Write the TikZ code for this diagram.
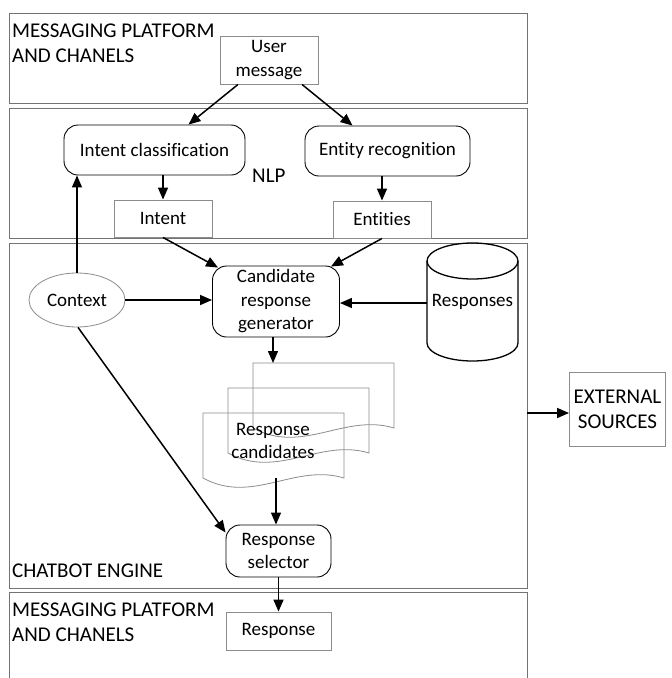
\documentclass[tikz,border=0pt]{standalone}
\usepackage{fontspec}
\setmainfont[Ligatures=NoCommon]{Carlito}
\usetikzlibrary{arrows.meta,calc,shapes.geometric}
\newcommand\boxfont{\fontsize{19}{23.5}\selectfont}
\newcommand\panelfont{\fontsize{21}{25}\selectfont}
\tikzset{
  panel/.style={draw=black!55, line width=0.8pt},
  lbl/.style={inner sep=0pt, align=left, font=\panelfont},
  gbox/.style={draw=black!45, line width=0.9pt, align=center, inner sep=2pt, font=\boxfont},
  rbox/.style={draw=black, line width=0.9pt, rounded corners=14pt, align=center, inner sep=2pt, font=\boxfont},
  doc/.style={draw=black!45, line width=0.8pt},
  arr/.style={line width=1.5pt, -{Triangle[length=12pt,width=10pt]}},
}
\begin{document}
\begin{tikzpicture}[x=1pt,y=-1pt]
	%%%%% START %%%%%
	\useasboundingbox (0,0) rectangle (672,678);
	
	% panels
	\draw[panel] (9,13) rectangle (527,103);
	\draw[panel] (9,108) rectangle (527,238);
	\draw[panel] (9,243) rectangle (527,588);
	\draw[panel] (9,678) -- (9,592) -- (527,592) -- (527,678);
	
	\node[lbl, anchor=north west] (msgtop) at (12,23.5) {MESSAGING PLATFORM\\AND CHANELS};
	\node[lbl, anchor=base west] (nlp) at (252,182) {NLP};
	\node[lbl, anchor=base west] (engine) at (12,577) {CHATBOT ENGINE};
	\node[lbl, anchor=north west] (msgbot) at (12,602.5) {MESSAGING PLATFORM\\AND CHANELS};
	
	% nodes
	\node[gbox, minimum width=98pt, minimum height=48pt] (usermsg) at (269,60) {User\\message};
	\node[rbox, minimum width=181pt, minimum height=50pt] (intcls) at (154.5,150) {Intent classification};
	\node[rbox, minimum width=165pt, minimum height=50pt] (entrec) at (387.5,151) {Entity recognition};
	\node[gbox, minimum width=98pt, minimum height=37pt] (intent) at (163,218.5) {Intent};
	\node[gbox, minimum width=98pt, minimum height=37pt] (entities) at (382,219.5) {Entities};
	\node[rbox, minimum width=127pt, minimum height=71pt] (cand) at (276,301.5) {Candidate\\response\\generator};
	\node[ellipse, draw=black!45, line width=0.8pt, minimum width=96pt, minimum height=54pt, inner sep=0pt, font=\boxfont] (context) at (77,300) {Context};
	
	% database
	\draw[line width=1.3pt] (427,261) -- (427,343) arc[start angle=180, end angle=0, x radius=45.5, y radius=18] -- (518,261);
	\draw[line width=1.3pt] (472.5,261) ellipse [x radius=45.5, y radius=18];
	\node[inner sep=0pt, font=\boxfont] (responses) at (472.5,302) {Responses};
	\coordinate (dbleft) at (427,303);
	
	% stacked documents
	\foreach \s in {50,25,0} {
		\draw[doc] (203+\s,478-\s) -- (203+\s,413-\s) -- (344+\s,413-\s) -- (344+\s,478-\s)
			.. controls (294.6+\s,463-\s) and (252.4+\s,505-\s) .. (203+\s,478-\s);
	}
	\node[inner sep=0pt, align=center, font=\boxfont] (cands) at (273,441) {Response\\candidates};
	\coordinate (candtop) at (273,363);
	\coordinate (candbot) at (276,478);
	
	\node[rbox, minimum width=105pt, minimum height=52pt] (selector) at (278.5,551) {Response\\selector};
	\node[gbox, minimum width=105pt, minimum height=38pt] (response) at (278.5,631) {Response};
	\node[gbox, minimum width=96pt, minimum height=74pt, font=\panelfont, inner sep=1pt] (extsrc) at (617.5,409) {EXTERNAL\\SOURCES};
	\coordinate (engright) at (527,413);
	
	% connectors
	\draw[arr] ($(usermsg.south)+(-31,0)$) -- ($(intcls.north)+(34,0)$);
	\draw[arr] ($(usermsg.south)+(33,0)$) -- ($(entrec.north)+(-35,0)$);
	\draw[arr] (intent.north |- intcls.south) -- (intent.north);
	\draw[arr] (entities.north |- entrec.south) -- (entities.north);
	\draw[arr] (intent.south) -- ($(cand.north west)+(6,2)$);
	\draw[arr] (entities.south) -- ($(cand.north east)+(-9,1)$);
	\draw[arr] (context.east) -- (context.east -| cand.west);
	\draw[arr] (dbleft) -- (dbleft -| cand.east);
	\draw[arr] (context.north) -- (context.north |- intcls.south);
	\draw[arr] (candtop |- cand.south) -- (candtop);
	\draw[arr] ($(context.south)+(1,0)$) -- ($(selector.north west)+(0,8)$);
	\draw[arr] (candbot) -- (candbot |- selector.north);
	\draw[arr] (selector.south) -- (response.north);
	\draw[arr] (engright) -- (engright -| extsrc.west);
	
	%%%%% END %%%%%
\end{tikzpicture}
\end{document}
